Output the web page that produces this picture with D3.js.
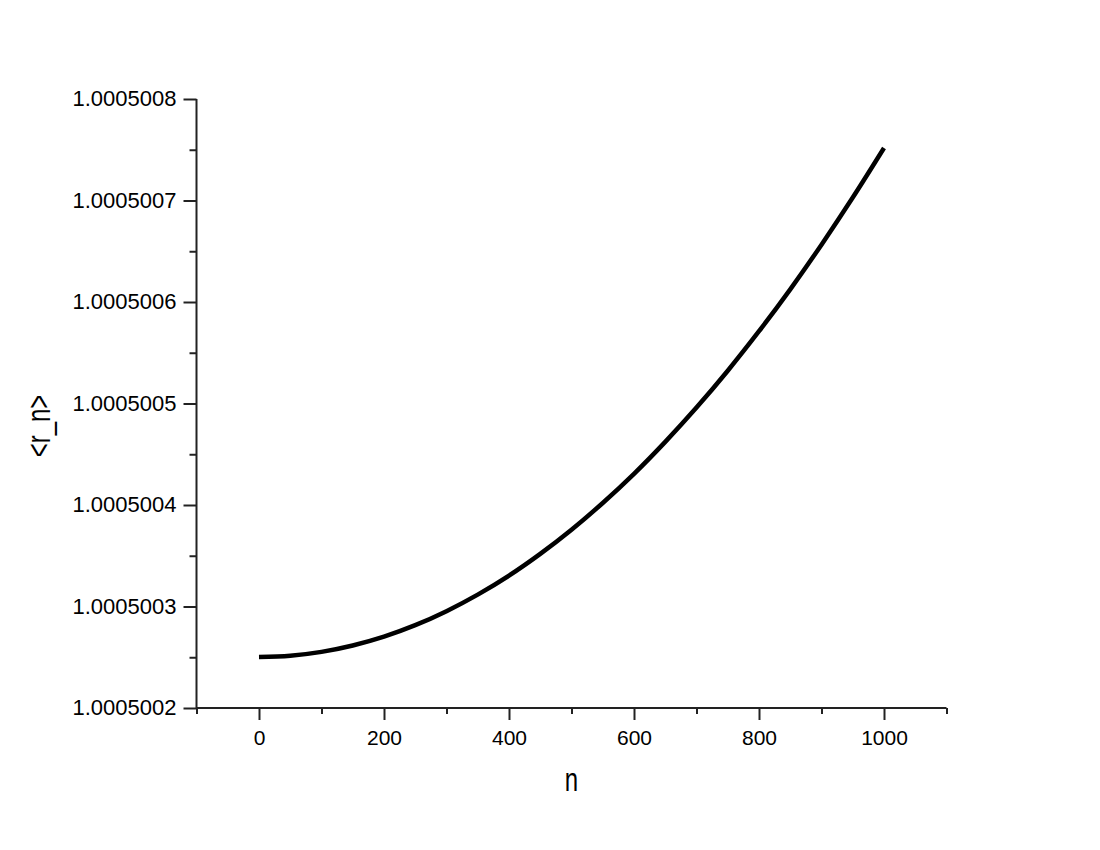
<!DOCTYPE html>
<html>
<head>
<meta charset="utf-8">
<script src="https://cdn.jsdelivr.net/npm/d3@7"></script>
<style>
  html, body { margin: 0; padding: 0; background: #fff; }
  svg { display: block; }
  text { font-family: "Liberation Sans", Arial, Helvetica, sans-serif; fill: #000; }
</style>
</head>
<body>
<svg id="chart" width="1100" height="850"></svg>
<script>
// ---- data ----
const nValues = [0, 50, 100, 150, 200, 250, 300, 350, 400, 450, 500,
                 550, 600, 650, 700, 750, 800, 850, 900, 950, 1000];
const rValues = [1.0005002502, 1.0005002515, 1.0005002553, 1.0005002616, 1.0005002703,
                 1.0005002816, 1.0005002954, 1.0005003117, 1.0005003304, 1.0005003518,
                 1.0005003756, 1.0005004020, 1.0005004307, 1.0005004622, 1.0005004960,
                 1.0005005323, 1.0005005712, 1.0005006125, 1.0005006565, 1.0005007029,
                 1.0005007517];
const xMajorTicks = [0, 200, 400, 600, 800, 1000];
const xMinorTicks = [-100, 100, 300, 500, 700, 900, 1100];
const yMajorTicks = [1.0005002, 1.0005003, 1.0005004, 1.0005005, 1.0005006, 1.0005007, 1.0005008];
const yMinorTicks = [1.00050025, 1.00050035, 1.00050045, 1.00050055, 1.00050065, 1.00050075];
const yTickLabels = ["1.0005002", "1.0005003", "1.0005004", "1.0005005", "1.0005006", "1.0005007", "1.0005008"];
const xLabel = "n";
const yLabel = "<r_n>";

// ---- layout ----
const svg = d3.select("#chart");
const x = d3.scaleLinear().domain([-100, 1100]).range([196.5, 946.5]);
const y = d3.scaleLinear().domain([1.0005002, 1.0005008]).range([708, 99]);

const axisColor = "#222";

// x axis
const gx = svg.append("g").attr("transform", `translate(0,${y.range()[0]})`);
gx.append("g").call(d3.axisBottom(x).tickValues(xMajorTicks).tickSize(12).tickPadding(10)
    .tickFormat(d3.format("d")))
  .call(g => g.select(".domain").remove())
  .call(g => g.selectAll("line").attr("stroke", axisColor).attr("stroke-width", 2))
  .call(g => g.selectAll("text").attr("font-size", 21).attr("fill", "#000")
      .attr("font-family", '"Liberation Sans", Arial, sans-serif'));
gx.append("g").call(d3.axisBottom(x).tickValues(xMinorTicks).tickSize(6).tickFormat(""))
  .call(g => g.select(".domain").remove())
  .call(g => g.selectAll("line").attr("stroke", axisColor).attr("stroke-width", 2));
gx.append("line").attr("x1", x.range()[0]).attr("x2", x.range()[1])
  .attr("stroke", axisColor).attr("stroke-width", 2);

// y axis
const gy = svg.append("g").attr("transform", `translate(${x.range()[0]},0)`);
gy.append("g").call(d3.axisLeft(y).tickValues(yMajorTicks).tickSize(13).tickPadding(7)
    .tickFormat((d, i) => yTickLabels[i]))
  .call(g => g.select(".domain").remove())
  .call(g => g.selectAll("line").attr("stroke", axisColor).attr("stroke-width", 2))
  .call(g => g.selectAll("text").attr("font-size", 22).attr("fill", "#000")
      .attr("dy", "0.3em")
      .attr("font-family", '"Liberation Sans", Arial, sans-serif'));
gy.append("g").call(d3.axisLeft(y).tickValues(yMinorTicks).tickSize(7).tickFormat(""))
  .call(g => g.select(".domain").remove())
  .call(g => g.selectAll("line").attr("stroke", axisColor).attr("stroke-width", 2));
gy.append("line").attr("y1", y.range()[0]).attr("y2", y.range()[1])
  .attr("stroke", axisColor).attr("stroke-width", 2);

// curve
const data = nValues.map((n, i) => ({ n, r: rValues[i] }));
svg.append("path")
  .datum(data)
  .attr("fill", "none")
  .attr("stroke", "#000")
  .attr("stroke-width", 4.5)
  .attr("d", d3.line().x(d => x(d.n)).y(d => y(d.r)).curve(d3.curveCatmullRom));

// axis titles (slightly tall font, as in the reference)
svg.append("text")
  .attr("transform", "translate(571.5,790.5) scale(1,1.35)")
  .attr("text-anchor", "middle")
  .attr("font-size", 24)
  .text(xLabel);

svg.append("text")
  .attr("transform", "translate(50,426) rotate(-90) scale(1,1.35)")
  .attr("text-anchor", "middle")
  .attr("font-size", 24)
  .text(yLabel);
</script>
</body>
</html>
